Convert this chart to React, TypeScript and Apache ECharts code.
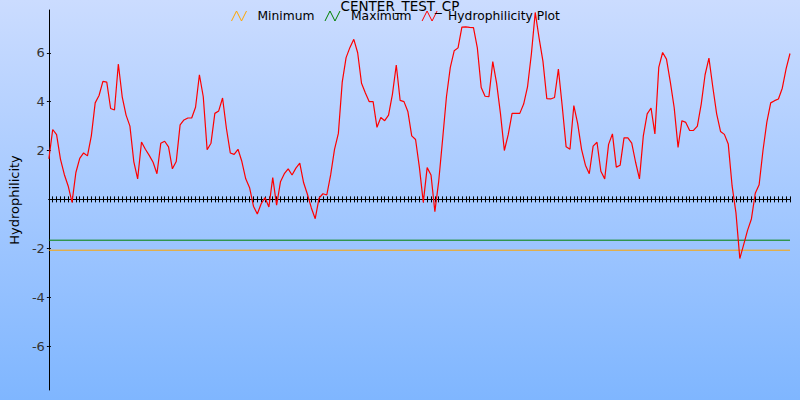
import React, { useEffect, useRef } from "react";
import * as echarts from "echarts";

const titleText = "CENTER_TEST_CP";
const yAxisName = "Hydrophilicity";
const seriesNames = ["Minimum", "Maximum", "Hydrophilicity Plot"];
const seriesColors = ["#ffa500", "#008000", "#ff0000"];

const hydrophilicity = [
  1.66, 2.86, 2.65, 1.65, 1.02, 0.55, -0.12, 1.1, 1.68, 1.9,
  1.78, 2.6, 3.95, 4.25, 4.83, 4.8, 3.72, 3.66, 5.54, 4.2,
  3.45, 3.0, 1.55, 0.84, 2.35, 2.05, 1.8, 1.52, 1.05, 2.3,
  2.38, 2.15, 1.25, 1.55, 3.05, 3.25, 3.33, 3.33, 3.77, 5.1,
  4.2, 2.03, 2.3, 3.52, 3.62, 4.15, 2.9, 1.9, 1.84, 2.05,
  1.55, 0.84, 0.48, -0.28, -0.6, -0.18, 0.07, -0.31, 0.89, -0.24,
  0.72, 1.05, 1.25, 1.0, 1.28, 1.48, 0.68, 0.2, -0.35, -0.79,
  0.05, 0.23, 0.18, 1.0, 2.05, 2.7, 4.8, 5.8, 6.22, 6.55,
  6.0, 4.75, 4.35, 4.0, 4.0, 2.95, 3.35, 3.22, 3.45, 4.3,
  5.5, 4.05, 4.0, 3.6, 2.6, 2.45, 1.3, -0.12, 1.3, 1.0,
  -0.5, 0.75, 2.45, 4.2, 5.4, 6.08, 6.2, 7.05, 7.06, 7.04,
  7.03, 6.2, 4.58, 4.22, 4.2, 5.64, 4.75, 3.5, 2.0, 2.65,
  3.52, 3.52, 3.52, 3.9, 4.6, 5.95, 7.65, 6.6, 5.65, 4.12,
  4.11, 4.17, 5.33, 3.8, 2.15, 2.05, 3.84, 3.1, 2.05, 1.4,
  1.05, 2.18, 2.34, 1.15, 0.84, 2.25, 2.68, 1.32, 1.4, 2.52,
  2.52, 2.3, 1.52, 0.84, 2.6, 3.5, 3.74, 2.68, 5.4, 6.01,
  5.74, 4.8, 3.75, 2.13, 3.22, 3.15, 2.82, 2.82, 3.0, 3.9,
  5.1, 5.78, 4.6, 3.5, 2.78, 2.66, 2.27, 0.55, -0.55, -2.42,
  -1.85, -1.27, -0.8, 0.25, 0.6, 2.0, 3.16, 3.95, 4.04, 4.11,
  4.55, 5.35, 5.97,
];

const minimumValue = -2.08;
const maximumValue = -1.67;

const yTickValues = [-6, -4, -2, 2, 4, 6];
const yMin = -7.8;
const yMax = 7.75;

const positions = hydrophilicity.map((_, i) => String(i + 1));

const zigzag = "path://M0,10L5,0L10,10L15,0";

export default function App() {
  const ref = useRef<HTMLDivElement>(null);
  useEffect(() => {
    if (!ref.current) return;
    const chart = echarts.init(ref.current, undefined, { renderer: "svg" });
    const font = "DejaVu Sans";
    const last = positions.length - 1;
    const xBase = {
      type: "category" as const,
      data: positions,
      boundaryGap: false,
      axisLabel: { show: false },
      splitLine: { show: false },
    };
    chart.setOption({
      animation: false,
      backgroundColor: {
        type: "linear",
        x: 0,
        y: 0,
        x2: 0,
        y2: 1,
        colorStops: [
          { offset: 0, color: "#cbdcff" },
          { offset: 1, color: "#7fb6ff" },
        ],
      },
      title: {
        text: titleText,
        left: "center",
        top: -1,
        padding: 0,
        textStyle: { fontFamily: font, fontSize: 13.5, fontWeight: "normal", color: "#000" },
      },
      legend: {
        data: seriesNames.map((name, i) => ({
          name,
          icon: zigzag,
          itemStyle: { color: "rgba(0,0,0,0)", borderColor: seriesColors[i], borderWidth: 1 },
        })),
        left: 231,
        top: 10,
        padding: 0,
        itemWidth: 15,
        itemHeight: 10,
        itemGap: 10,
        textStyle: { fontFamily: font, fontSize: 12.3, color: "#000", padding: [0, 0, 0, 6] },
      },
      grid: { left: 46, right: 10, top: 10, bottom: 10, containLabel: false },
      xAxis: [
        {
          ...xBase,
          position: "bottom",
          axisLine: { show: true, onZero: true, onZeroAxisIndex: 0, lineStyle: { color: "#000", width: 1 } },
          axisTick: { show: true, interval: 0, inside: false, length: 3, lineStyle: { color: "#000" } },
        },
        {
          ...xBase,
          position: "bottom",
          axisLine: { show: true, onZero: true, onZeroAxisIndex: 0, lineStyle: { color: "#000", width: 1 } },
          axisTick: { show: true, interval: 0, inside: true, length: 3, lineStyle: { color: "#000" } },
        },
      ],
      yAxis: [
        {
          type: "value",
          min: yMin,
          max: yMax,
          name: yAxisName,
          nameLocation: "middle",
          nameRotate: 90,
          nameGap: 24,
          nameTextStyle: { fontFamily: font, fontSize: 13, color: "#000" },
          axisLine: { show: true, onZero: false, lineStyle: { color: "#000", width: 1 } },
          axisTick: { show: true, length: 2, customValues: yTickValues, lineStyle: { color: "#000" } },
          axisLabel: {
            customValues: yTickValues,
            margin: 4,
            fontFamily: font,
            fontSize: 13,
            color: "#333",
          },
          splitLine: { show: false },
        },
        {
          type: "value",
          min: yMin,
          max: yMax,
          position: "left",
          axisLine: { show: false, onZero: false },
          axisTick: { show: true, inside: true, length: 2, customValues: yTickValues, lineStyle: { color: "#000" } },
          axisLabel: { show: false },
          splitLine: { show: false },
        },
      ],
      series: [
        {
          name: seriesNames[0],
          type: "line",
          data: [
            [0, minimumValue],
            [last, minimumValue],
          ],
          showSymbol: false,
          symbol: "none",
          lineStyle: { color: seriesColors[0], width: 1 },
          itemStyle: { color: seriesColors[0] },
        },
        {
          name: seriesNames[1],
          type: "line",
          data: [
            [0, maximumValue],
            [last, maximumValue],
          ],
          showSymbol: false,
          symbol: "none",
          lineStyle: { color: seriesColors[1], width: 1 },
          itemStyle: { color: seriesColors[1] },
        },
        {
          name: seriesNames[2],
          type: "line",
          data: hydrophilicity,
          showSymbol: false,
          symbol: "none",
          lineStyle: { color: seriesColors[2], width: 1.2 },
          itemStyle: { color: seriesColors[2] },
        },
      ],
    });
    return () => chart.dispose();
  }, []);
  return <div ref={ref} style={{ position: "fixed", left: 0, top: 0, width: 800, height: 400 }} />;
}
